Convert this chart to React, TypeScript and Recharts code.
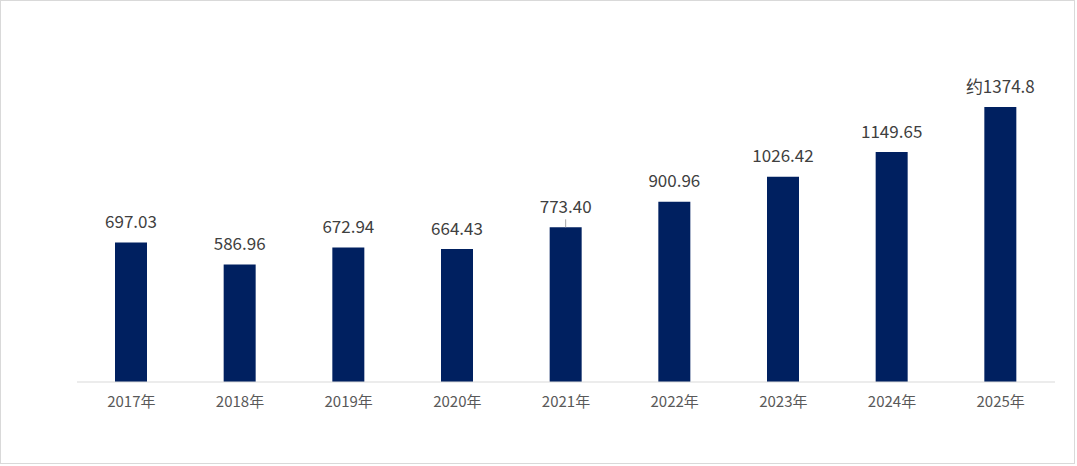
import { BarChart, Bar, XAxis, YAxis, LabelList } from "recharts";

const years = ["2017年", "2018年", "2019年", "2020年", "2021年", "2022年", "2023年", "2024年", "2025年"];
const values = [697.03, 586.96, 672.94, 664.43, 773.4, 900.96, 1026.42, 1149.65, 1374.8];
const valueLabels = ["697.03", "586.96", "672.94", "664.43", "773.40", "900.96", "1026.42", "1149.65", "约1374.8"];

const data = years.map((year, i) => ({ year, value: values[i], label: valueLabels[i] }));

const FONT = '"Noto Sans CJK SC", "Noto Sans", sans-serif';

function ValueLabel(props: any) {
  const { x, y, width, index } = props;
  const cx = x + width / 2;
  return (
    <g>
      {index === 4 && <line x1={cx} x2={cx} y1={y - 8} y2={y} stroke="#a6a6a6" strokeWidth={1} />}
      <text x={cx} y={y - 14.5} textAnchor="middle" fontSize={17} fill="#404040" fontFamily={FONT}>
        {valueLabels[index]}
      </text>
    </g>
  );
}

export default function App() {
  return (
    <div
      style={{
        position: "absolute",
        left: 0,
        top: 0,
        width: 1075,
        height: 464,
        border: "1px solid #d9d9d9",
        boxSizing: "border-box",
        background: "#fff",
      }}
    >
      <BarChart
        width={1073}
        height={462}
        data={data}
        margin={{ top: 61, right: 19, bottom: 51, left: 76 }}
      >
        <XAxis
          dataKey="year"
          axisLine={{ stroke: "#d9d9d9" }}
          tickLine={false}
          tickMargin={8}
          height={30}
          tick={{ fontSize: 15, fill: "#595959", fontFamily: FONT }}
        />
        <YAxis hide domain={[0, 1600]} />
        <Bar dataKey="value" fill="#002060" barSize={32} isAnimationActive={false}>
          <LabelList dataKey="label" content={<ValueLabel />} />
        </Bar>
      </BarChart>
    </div>
  );
}
